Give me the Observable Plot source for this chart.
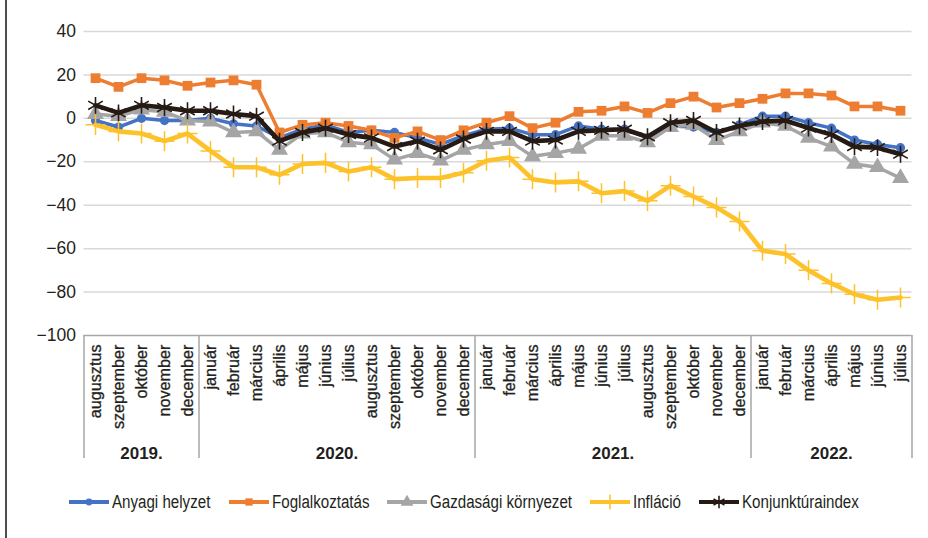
<!DOCTYPE html>
<html><head><meta charset="utf-8">
<script src="https://cdn.jsdelivr.net/npm/d3@7"></script>
<script src="https://cdn.jsdelivr.net/npm/@observablehq/plot@0.6"></script>
<style>
body{margin:0;background:#fff;font-family:"Liberation Sans",Arial,sans-serif;color:#231f20;}
#wrap{position:relative;width:928px;height:538px;overflow:hidden;background:#fff;}
#border{position:absolute;left:5px;top:0;width:1.5px;height:538px;background:#4d4d4d;}
#legend{position:absolute;top:490px;left:0;width:928px;height:24px;display:flex;justify-content:center;align-items:center;gap:18px;}
.item{display:flex;align-items:center;gap:3px;white-space:nowrap;}
.lab{display:inline-block;transform-origin:0 50%;}
</style></head><body>
<div id="wrap"><div id="chart"></div><div id="legend"></div><div id="border"></div></div>
<script>
// ---- data ----
const years = ["2019.", "2020.", "2021.", "2022."];
const months2019 = ["augusztus", "szeptember", "október", "november", "december"];
const months2020 = ["január", "február", "március", "április", "május", "június", "július", "augusztus", "szeptember", "október", "november", "december"];
const months2021 = ["január", "február", "március", "április", "május", "június", "július", "augusztus", "szeptember", "október", "november", "december"];
const months2022 = ["január", "február", "március", "április", "május", "június", "július"];
const seriesNames = ["Anyagi helyzet", "Foglalkoztatás", "Gazdasági környezet", "Infláció", "Konjunktúraindex"];
const anyagiHelyzet = [-1, -4, 0, -1, -1, 0, -2.5, -3.5, -9, -5, -3, -6.5, -5.5, -6.5, -9, -12, -8, -5, -4.5, -7.5, -7.5, -3.5, -5, -5, -9, -3.5, -4, -6.5, -3, 1, 1, -2, -4.5, -10, -12, -13.5];
const foglalkoztatas = [18.5, 14.5, 18.5, 17.5, 15, 16.5, 17.5, 15.5, -6.5, -3, -2, -3.5, -5.5, -9, -6, -10, -5.5, -2, 1, -4.5, -2, 3, 3.5, 5.5, 2.5, 7, 10, 5, 7, 9, 11.5, 11.5, 10.5, 5.5, 5.5, 3.5];
const gazdasagiKornyezet = [2, 1, 4, 3, -1, -1.5, -6.5, -6, -14.5, -7, -6.5, -11, -12, -19, -16, -19.5, -14.5, -12, -10.5, -17.5, -16, -14, -8, -8, -11, -4, -3, -10, -6, -2, -3.5, -9, -13, -21, -22.5, -27.5];
const inflacio = [-3, -6, -7, -10.5, -7, -15, -22.5, -22.5, -26, -21, -20.5, -24.5, -22.5, -28, -27.5, -27.5, -25, -19.5, -18, -28, -29.5, -29, -34.5, -33.5, -38, -31, -36, -41, -47.5, -61, -62.5, -70, -76, -81, -83.5, -82.5];
const konjunkturaindex = [6, 2.5, 6, 5, 3.5, 3.5, 2, 1, -10.5, -6.5, -4.5, -7.5, -9, -13, -10.5, -14.5, -9.5, -6, -6, -10.5, -10, -6, -5.5, -5, -8.5, -2, -1, -6.5, -3.5, -1.5, -1, -4.5, -7.5, -13, -13.5, -16.5];
const yTicks = [40, 20, 0, -20, -40, -60, -80, -100];

// ---- derived tables ----
const monthGroups = [months2019, months2020, months2021, months2022];
const rows = [];
const yearRows = [];
monthGroups.forEach((ms, g) => {
  const start = rows.length;
  ms.forEach(m => rows.push({i: rows.length, month: m}));
  yearRows.push({year: years[g], start: start - 0.5, end: rows.length - 0.5, center: (start + rows.length - 1) / 2});
});
const boundaries = [...yearRows.map(d => d.start), yearRows[yearRows.length - 1].end];
const values = [anyagiHelyzet, foglalkoztatas, gazdasagiKornyezet, inflacio, konjunkturaindex];
const styles = [
  {color: "#4472c4", symbol: "circle", r: 4.6, width: 3.5, filled: true},
  {color: "#ed7d31", symbol: "square", r: 5.5, width: 3.5, filled: true},
  {color: "#a5a5a5", symbol: "triangle", r: 6.3, width: 3.5, filled: true},
  {color: "#fdc12a", symbol: "plus", r: 6.5, width: 4.6, filled: false, sw: 1.5},
  {color: "#261b14", symbol: "asterisk", r: 8, width: 4.6, filled: false, sw: 1.6}
];
const series = seriesNames.map((name, k) => values[k].map((v, i) => ({i, name, v})));

const H = 470, MT = 31, MB = 135;
const fontMain = "'Liberation Sans', Arial, sans-serif";

const marks = [
  Plot.ruleY(yTicks.slice(0, -1), {stroke: "#d9d9d9", strokeWidth: 1.5}),
  Plot.ruleY([yTicks[yTicks.length - 1]], {stroke: "#a6a6a6", strokeWidth: 1.5}),
  Plot.ruleX(boundaries, {x: d => d, stroke: "#a6a6a6", strokeWidth: 1.5, insetTop: H - MT - MB, insetBottom: -123}),
  Plot.axisY({ticks: yTicks, tickSize: 0, tickPadding: 8, fontSize: 17.5, label: null, tickFormat: d => d3.format("")(d)}),
  Plot.text(rows, {x: "i", text: "month", frameAnchor: "bottom", rotate: -90, textAnchor: "end", lineAnchor: "middle", dy: 9, fontSize: 16.2, fill: "#231f20", stroke: "#231f20", strokeWidth: 0.3}),
  Plot.text(yearRows, {x: "center", text: "year", frameAnchor: "bottom", lineAnchor: "middle", dy: 118, fontSize: 17, fontWeight: "bold", fill: "#231f20"})
];
series.forEach((data, k) => {
  const s = styles[k];
  marks.push(Plot.line(data, {x: "i", y: "v", stroke: s.color, strokeWidth: s.width, strokeLinejoin: "round"}));
  if (s.filled) marks.push(Plot.dot(data, {x: "i", y: "v", symbol: s.symbol, r: s.r, fill: s.color, stroke: "none"}));
  else marks.push(Plot.dot(data, {x: "i", y: "v", symbol: s.symbol, r: s.r, stroke: s.color, strokeWidth: s.sw}));
});

const chart = Plot.plot({
  width: 928, height: H,
  marginLeft: 83.5, marginRight: 16.5, marginTop: MT, marginBottom: MB,
  style: {fontFamily: fontMain, color: "#231f20", background: "transparent", overflow: "visible"},
  x: {domain: [-0.5, rows.length - 0.5], axis: null},
  y: {domain: [-100, 40], axis: null},
  marks
});
document.getElementById("chart").append(chart);

// ---- legend ----
const symMap = {circle: d3.symbolCircle, square: d3.symbolSquare, triangle: d3.symbolTriangle, plus: d3.symbolPlus, asterisk: d3.symbolAsterisk};
const legend = document.getElementById("legend");
const spans = [];
seriesNames.forEach((name, k) => {
  const s = styles[k];
  const item = document.createElement("div"); item.className = "item";
  const w = 40, h = 20;
  const svg = d3.create("svg").attr("width", w).attr("height", h);
  svg.append("line").attr("x1", 0).attr("x2", w).attr("y1", h / 2).attr("y2", h / 2).attr("stroke", s.color).attr("stroke-width", 4);
  const r = s.r * 0.75;
  svg.append("path").attr("transform", `translate(${w / 2},${h / 2})`)
    .attr("d", d3.symbol(symMap[s.symbol], Math.PI * r * r)())
    .attr("fill", s.filled ? s.color : "none").attr("stroke", s.filled ? "none" : s.color).attr("stroke-width", s.sw || 0);
  item.append(svg.node());
  const span = document.createElement("span"); span.className = "lab"; span.textContent = name;
  span.style.font = "18px 'Liberation Sans', Arial, sans-serif"; span.style.color = "#231f20";
  span.style.transform = "scaleX(0.84)";
  item.append(span); spans.push(span);
  legend.append(item);
});
spans.forEach(sp => { const w = sp.getBoundingClientRect().width / 0.84; sp.style.marginRight = (-(w * 0.16)).toFixed(1) + "px"; });
</script>
</body></html>
